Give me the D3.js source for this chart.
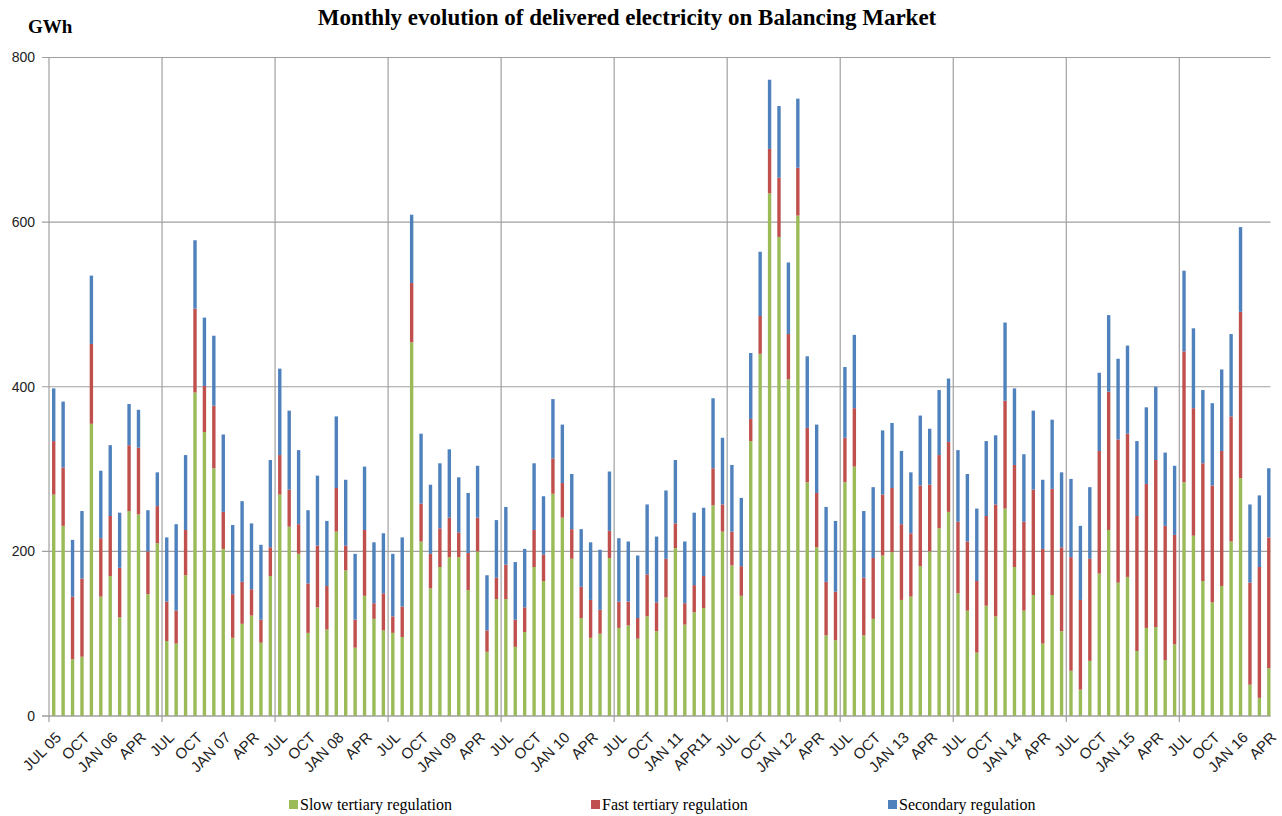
<!DOCTYPE html>
<html>
<head>
<meta charset="utf-8">
<script src="https://cdn.jsdelivr.net/npm/d3@7"></script>
<style>
  body { margin: 0; background: #ffffff; }
</style>
</head>
<body>
<script>
//monthly values in GWh, JUL 05 ... APR 16 (one line per year from July)
var slowTertiary = [
  269, 231, 69, 72, 355, 145, 170, 120, 249, 245, 148, 210,
  91, 88, 171, 393, 345, 301, 203, 95, 112, 122, 89, 170,
  269, 230, 197, 101, 132, 105, 224, 177, 83, 146, 118, 104,
  101, 96, 454, 212, 155, 181, 193, 193, 153, 200, 78, 142,
  142, 84, 102, 181, 164, 270, 241, 191, 119, 95, 100, 192,
  107, 110, 94, 121, 103, 144, 204, 111, 126, 131, 256, 224,
  183, 146, 334, 440, 635, 582, 409, 608, 284, 205, 98, 92,
  284, 303, 98, 118, 195, 199, 141, 145, 182, 200, 228, 248,
  149, 128, 77, 134, 121, 252, 181, 128, 147, 88, 147, 103,
  55, 32, 67, 173, 226, 162, 169, 79, 107, 108, 68, 87,
  284, 219, 164, 138, 158, 212, 289, 38, 22, 58
];
var fastTertiary = [
  65, 71, 76, 95, 97, 71, 73, 60, 80, 81, 52, 45,
  48, 40, 55, 102, 56, 76, 45, 53, 51, 32, 28, 35,
  48, 45, 36, 60, 75, 53, 53, 30, 34, 80, 19, 45,
  20, 37, 72, 46, 42, 47, 48, 30, 45, 41, 26, 26,
  42, 33, 30, 45, 32, 43, 42, 36, 38, 46, 29, 33,
  32, 29, 25, 51, 35, 47, 30, 26, 33, 39, 45, 33,
  41, 36, 27, 46, 54, 72, 55, 58, 66, 66, 65, 59,
  54, 71, 70, 74, 74, 78, 92, 77, 98, 81, 89, 85,
  87, 84, 87, 109, 136, 131, 124, 108, 128, 115, 129, 102,
  138, 109, 124, 149, 168, 174, 174, 164, 175, 203, 163, 133,
  159, 155, 143, 142, 164, 152, 202, 124, 159, 159
];
var secondary = [
  64, 80, 69, 82, 83, 82, 86, 67, 50, 46, 50, 41,
  78, 105, 91, 83, 83, 85, 94, 84, 98, 80, 91, 106,
  105, 96, 90, 89, 85, 79, 87, 80, 80, 77, 74, 73,
  76, 84, 83, 85, 84, 79, 83, 67, 73, 63, 67, 70,
  70, 70, 71, 81, 71, 72, 71, 67, 70, 70, 73, 72,
  77, 73, 76, 85, 80, 83, 77, 75, 88, 83, 85, 81,
  81, 83, 80, 78, 84, 87, 87, 84, 87, 83, 91, 86,
  86, 89, 81, 86, 78, 79, 89, 74, 85, 68, 79, 77,
  87, 82, 88, 91, 84, 95, 93, 82, 96, 84, 84, 91,
  95, 90, 87, 95, 93, 98, 107, 91, 93, 89, 89, 84,
  98, 97, 89, 100, 99, 100, 103, 95, 87, 84
];

//every third month carries a label
var tickLabels = [
  "JUL 05", "OCT", "JAN 06", "APR", "JUL", "OCT", "JAN 07", "APR",
  "JUL", "OCT", "JAN 08", "APR", "JUL", "OCT", "JAN 09", "APR",
  "JUL", "OCT", "JAN 10", "APR", "JUL", "OCT", "JAN 11", "APR11",
  "JUL", "OCT", "JAN 12", "APR", "JUL", "OCT", "JAN 13", "APR",
  "JUL", "OCT", "JAN 14", "APR", "JUL", "OCT", "JAN 15", "APR",
  "JUL", "OCT", "JAN 16", "APR"
];
var seriesNames = ["Slow tertiary regulation", "Fast tertiary regulation", "Secondary regulation"];
var seriesColors = ["#9bbb59", "#c0504d", "#4f81bd"];
var yTicks = [0, 200, 400, 600, 800];

//months as categories
var months = d3.timeMonth.range(new Date(2005, 6, 1), new Date(2016, 4, 1));

var table = months.map(function (m, i) {
  return { month: m, slow: slowTertiary[i], fast: fastTertiary[i], sec: secondary[i] };
});
var stack = d3.stack().keys(["slow", "fast", "sec"]);
var layers = stack(table);

var svgContainer = d3.select("body").append("svg")
                                    .attr("width", 1282)
                                    .attr("height", 816);

var plotLeft = 49, plotRight = 1273.5, plotTop = 57.5, plotBottom = 716;

var x = d3.scaleBand().domain(months).range([plotLeft, plotRight]).paddingInner(0.64).paddingOuter(0.32);
var step = x.step();
var y = d3.scaleLinear().domain([0, 800]).range([plotBottom, plotTop]);

//horizontal gridlines
svgContainer.append("g").selectAll("line").data(yTicks).enter().append("line")
  .attr("x1", plotLeft - 7).attr("x2", plotRight - 3)
  .attr("y1", function (d) { return y(d); })
  .attr("y2", function (d) { return y(d); })
  .style("stroke", "#a0a0a0")
  .style("stroke-width", 1.2);

//vertical gridlines every 12 months (start of July)
var yearStarts = months.filter(function (m, i) { return i > 0 && i % 12 === 0; });
svgContainer.append("g").selectAll("line").data(yearStarts).enter().append("line")
  .attr("x1", function (d) { return x(d) - (step - x.bandwidth()) / 2; })
  .attr("x2", function (d) { return x(d) - (step - x.bandwidth()) / 2; })
  .attr("y1", plotTop).attr("y2", plotBottom + 6)
  .style("stroke", "#a0a0a0")
  .style("stroke-width", 1.2);

//y axis line
svgContainer.append("line")
  .attr("x1", plotLeft).attr("x2", plotLeft).attr("y1", plotTop).attr("y2", plotBottom + 6)
  .style("stroke", "#a0a0a0").style("stroke-width", 1.2);

//stacked bars
svgContainer.append("g").selectAll("g").data(layers).enter().append("g")
  .style("fill", function (d, i) { return seriesColors[i]; })
  .selectAll("rect").data(function (d) { return d; }).enter().append("rect")
  .attr("x", function (d) { return x(d.data.month); })
  .attr("width", x.bandwidth())
  .attr("y", function (d) { return y(d[1]); })
  .attr("height", function (d) { return y(d[0]) - y(d[1]); });

//x axis line
svgContainer.append("line")
  .attr("x1", plotLeft - 7).attr("x2", plotRight - 3).attr("y1", plotBottom).attr("y2", plotBottom)
  .style("stroke", "#a0a0a0").style("stroke-width", 1.2);

//y tick labels
svgContainer.append("g").selectAll("text").data(yTicks).enter().append("text")
  .attr("x", 35)
  .attr("y", function (d) { return y(d); })
  .attr("dy", "0.35em")
  .attr("text-anchor", "end")
  .style("font-family", "'Liberation Sans', Arial, sans-serif")
  .style("font-size", "14px")
  .style("fill", "#222")
  .text(function (d) { return d; });

//x tick labels, rotated
var labelled = months.filter(function (m, i) { return i % 3 === 0; });
svgContainer.append("g").selectAll("text").data(labelled).enter().append("text")
  .attr("transform", function (d) {
    return "translate(" + (x(d) + x.bandwidth() / 2 + 1) + "," + (plotBottom + 15) + ") rotate(-45)";
  })
  .attr("text-anchor", "end")
  .attr("dy", "0.7em")
  .style("font-family", "'Liberation Sans', Arial, sans-serif")
  .style("font-size", "15px")
  .style("fill", "#222")
  .text(function (d, i) { return tickLabels[i]; });

//title and unit
svgContainer.append("text")
  .attr("x", 627).attr("y", 25)
  .attr("text-anchor", "middle")
  .style("font-family", "'Liberation Serif', 'Times New Roman', serif")
  .style("font-weight", "bold")
  .style("font-size", "23px")
  .text("Monthly evolution of delivered electricity on Balancing Market");

svgContainer.append("text")
  .attr("x", 28).attr("y", 33)
  .style("font-family", "'Liberation Serif', 'Times New Roman', serif")
  .style("font-weight", "bold")
  .style("font-size", "19px")
  .text("GWh");

//legend
var legendX = [289, 591, 888];
var legend = svgContainer.append("g").selectAll("g").data(seriesNames).enter().append("g")
  .attr("transform", function (d, i) { return "translate(" + legendX[i] + ",800)"; });
legend.append("rect")
  .attr("width", 9).attr("height", 9)
  .style("fill", function (d, i) { return seriesColors[i]; });
legend.append("text")
  .attr("x", 11).attr("y", 10)
  .style("font-family", "'Liberation Serif', 'Times New Roman', serif")
  .style("font-size", "16px")
  .text(function (d) { return d; });
</script>
</body>
</html>
